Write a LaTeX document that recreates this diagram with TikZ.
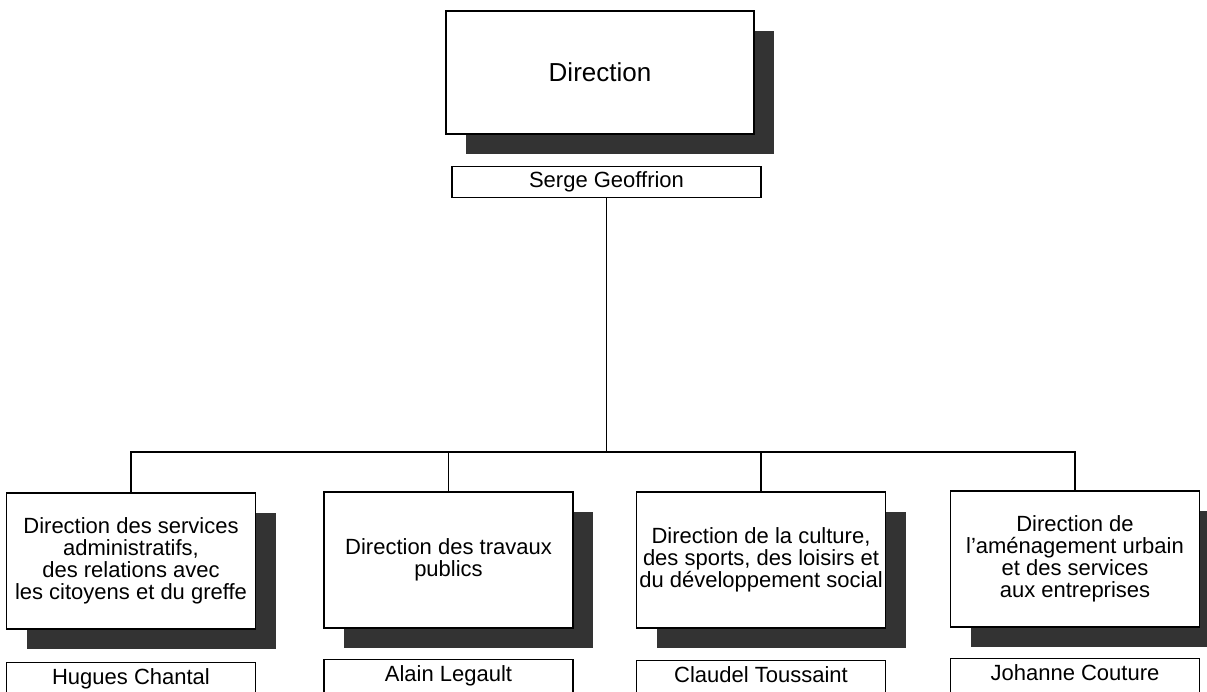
\documentclass[tikz,border=0pt]{standalone}
\usepackage{fontspec}
\setmainfont{Liberation Sans}
\usepackage{tikz}
\usetikzlibrary{positioning,shadows}
\definecolor{shadowgray}{HTML}{333333}

\begin{document}
\begin{tikzpicture}[x=1pt,y=1pt,align=center,line width=1.2pt]
	\tikzstyle{unitbox}=[draw,rectangle,fill=white,minimum width=249pt,minimum height=136pt,inner sep=2pt,font=\fontsize{22}{22}\selectfont,drop shadow={shadow xshift=20pt,shadow yshift=-20pt,fill=shadowgray,opacity=1}]
	\tikzstyle{namebox}=[draw,rectangle,fill=white,minimum width=249pt,inner xsep=2pt,inner ysep=4pt,text height=18pt,text depth=20pt,font=\fontsize{22}{22}\selectfont]

	\useasboundingbox (0,0) rectangle (1207,-691);
	\clip (0,0) rectangle (1207,-691);

	\node[unitbox,minimum width=308pt,minimum height=123pt,font=\fontsize{26}{30}\selectfont](direction) at (600,-72.5){Direction};
	\node[namebox,minimum width=309pt,text height=17pt,text depth=6pt,inner ysep=4pt,below=31pt of direction,xshift=6.5pt](serge){Serge Geoffrion};

	\node[unitbox](admin) at (131,-561){Direction des services\\administratifs,\\des relations avec\\les citoyens et du greffe};
	\node[unitbox](travaux) at (448.5,-560){Direction des travaux\\publics};
	\node[unitbox](culture) at (761,-560){Direction de la culture,\\des sports, des loisirs et\\du développement social};
	\node[unitbox](amenagement) at (1075,-559){Direction de\\l’aménagement urbain\\et des services\\aux entreprises};

	\node[namebox,below=32pt of admin](admin_head){Hugues Chantal};
	\node[namebox,below=30pt of travaux](travaux_head){Alain Legault};
	\node[namebox,below=31pt of culture](culture_head){Claudel Toussaint};
	\node[namebox,below=30pt of amenagement](amenagement_head){Johanne Couture};

	\coordinate (bus) at (0,-452);

	\draw(serge.south) -- (serge.south |- bus);
	\draw(admin.north) -- (admin.north |- bus) -| (amenagement.north);
	\draw(travaux.north) -- (travaux.north |- bus);
	\draw(culture.north) -- (culture.north |- bus);
\end{tikzpicture}
\end{document}
